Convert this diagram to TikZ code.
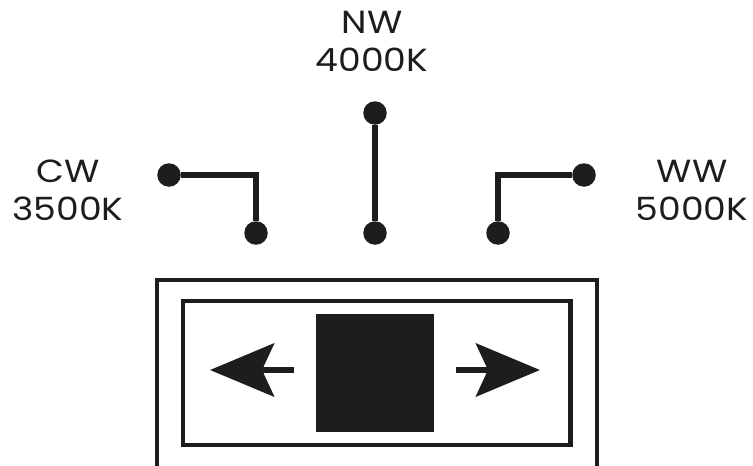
\documentclass[tikz,border=0pt]{standalone}
\usepackage{fontspec}
\setmainfont{Poppins}[FakeStretch=1.13]
\usetikzlibrary{arrows.meta}
\definecolor{ink}{HTML}{1D1D1B}
\begin{document}
\begin{tikzpicture}[x=1pt,y=-1pt,
  pin/.style={circle, fill=ink, minimum size=23.5pt, inner sep=0pt},
  wire/.style={draw=ink, line width=5.8pt},
  frame/.style={draw=ink, line width=4.3pt},
  tag/.style={align=center, inner sep=0pt, text=ink, font=\fontsize{32}{38}\selectfont},
  arr/.style={draw=ink, line width=6.7pt, -{Stealth[length=64pt,width=53pt,inset=12pt]}}]
\useasboundingbox (0,0) rectangle (753,466);
\node[pin] (pid0) at (169,175){};
\node[pin] (pid1) at (256,233){};
\coordinate (cid0) at (256,175);
\draw[wire](pid0) -- (cid0) -- (pid1);
\node[pin] (pid2) at (375,113){};
\node[pin] (pid3) at (375,233){};
\draw[wire](pid2) -- (pid3);
\node[pin] (pid4) at (584,175){};
\node[pin] (pid5) at (498,233){};
\coordinate (cid1) at (498,175);
\draw[wire](pid4) -- (cid1) -- (pid5);
\node[tag] (cw) at (68,190.5){CW\\3500K};
\node[tag] (nw) at (372,41){NW\\4000K};
\node[tag] (ww) at (692,190.5){WW\\5000K};
\draw[frame] (157,470) -- (157,280) -- (597,280) -- (597,470);
\draw[frame] (183,301) rectangle (570.5,445);
\node[fill=ink, minimum width=118pt, minimum height=118pt, inner sep=0pt] (knob) at (375,373){};
\coordinate (la0) at (294,370);
\coordinate (la1) at (210,370);
\draw[arr](la0) -- (la1);
\coordinate (ra0) at (456,370);
\coordinate (ra1) at (540,370);
\draw[arr](ra0) -- (ra1);
\end{tikzpicture}
\end{document}
